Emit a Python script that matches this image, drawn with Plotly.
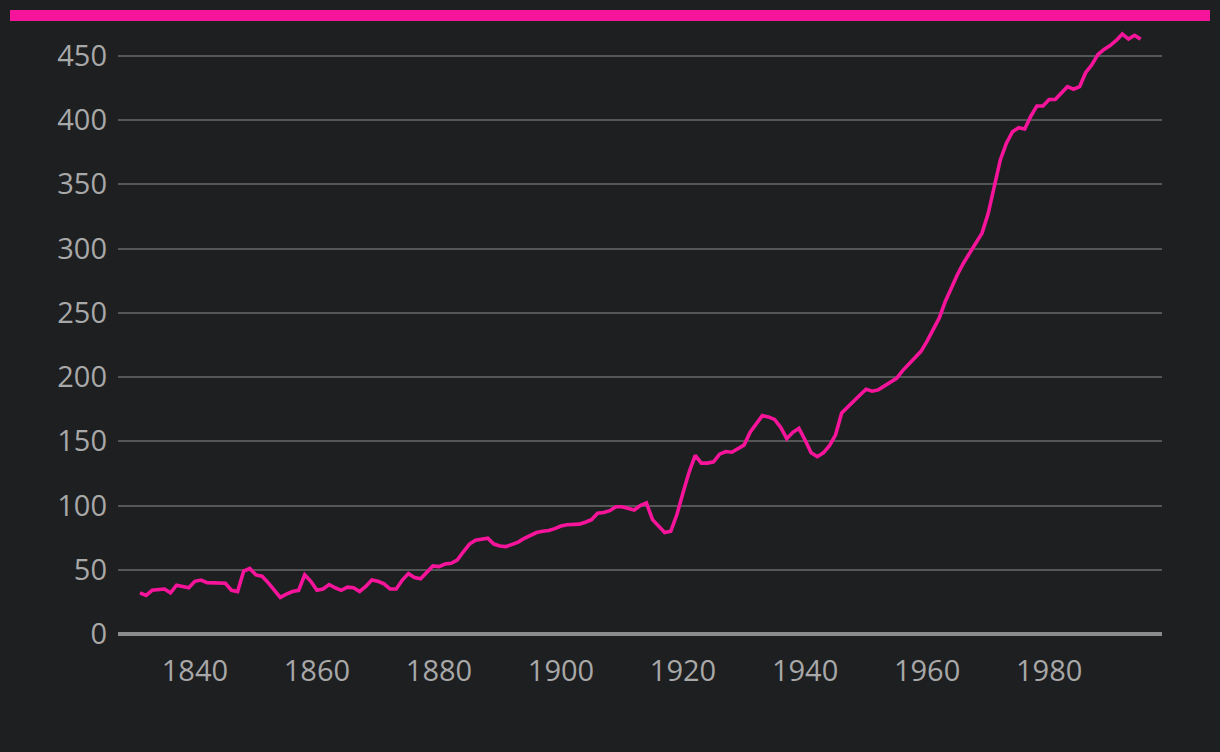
import plotly.graph_objects as go

years = list(range(1831, 1996))
values = [
    32, 30, 34, 34.5, 35, 32, 38, 37, 36, 41,            # 1831-1840
    42, 40, 40, 40, 39.5, 34, 33, 49, 51, 46,            # 1841-1850
    45, 40, 34.5, 28.5, 31, 33, 34, 46, 41, 34,          # 1851-1860
    35, 38.5, 36, 34, 36.5, 36, 33, 37, 42, 41,          # 1861-1870
    39, 35, 35, 42, 47, 44, 43, 48.5, 53, 52.5,          # 1871-1880
    54.5, 55, 57.5, 64, 70, 73, 73.5, 74.5, 70, 68.5,    # 1881-1890
    68, 69.5, 71.5, 74.5, 77, 79, 80, 80.5, 82, 84,      # 1891-1900
    85, 85.5, 85.5, 87, 89, 94, 94.5, 96, 99, 99,        # 1901-1910
    97.5, 96.5, 100, 102, 89, 84, 79, 80, 93, 110,       # 1911-1920
    126, 139, 133, 133, 134, 140, 142, 141.5, 144, 147,  # 1921-1930
    157, 163, 170, 169, 167, 161, 152, 157, 160, 151,    # 1931-1940
    141, 138, 141, 146.5, 155, 172, 177, 181, 186, 190.5,  # 1941-1950
    189, 190, 193, 196, 199, 205, 210, 215, 220, 228,    # 1951-1960
    237, 246, 259, 270, 280, 289, 297, 304, 312, 327,    # 1961-1970
    348, 369, 382, 391, 394, 393, 403, 411, 411, 416,    # 1971-1980
    416, 421, 426, 424, 426, 437, 443, 451, 455, 458,    # 1981-1990
    462, 467, 463, 466, 463,                             # 1991-1995
]

x_ticks = [1840, 1860, 1880, 1900, 1920, 1940, 1960, 1980]
y_ticks = [0, 50, 100, 150, 200, 250, 300, 350, 400, 450]

BG = "#1e1f21"
PINK = "#f5149a"
TXT = "#a8a8a8"
FONT = "Open Sans"
FS = 29

W, H = 1220, 752
ML, MR, MT, MB = 118, 58, 25, 118

fig = go.Figure()
fig.add_trace(go.Scatter(
    x=years, y=values, mode="lines",
    line=dict(color=PINK, width=3.6),
    hoverinfo="x+y", showlegend=False,
))

pw = W - ML - MR
ph = H - MT - MB
fig.add_shape(
    type="rect", xref="paper", yref="paper",
    x0=(10 - ML) / pw, x1=(1210 - ML) / pw,
    y0=(H - MB - 21) / ph, y1=(H - MB - 10) / ph,
    fillcolor=PINK, line=dict(width=0), layer="above",
)

fig.update_layout(
    width=W, height=H,
    margin=dict(l=ML, r=MR, t=MT, b=MB, pad=0),
    paper_bgcolor=BG, plot_bgcolor=BG,
    font=dict(family=FONT, size=FS, color=TXT),
    xaxis=dict(
        range=[1827.4, 1998.5],
        tickmode="array", tickvals=x_ticks, ticktext=[str(v) for v in x_ticks],
        showgrid=False, zeroline=False, showline=False,
        ticks="", ticklabelstandoff=17,
        tickfont=dict(family=FONT, size=FS, color=TXT),
    ),
    yaxis=dict(
        range=[0, 474],
        tickmode="array", tickvals=y_ticks, ticktext=[str(v) for v in y_ticks],
        showgrid=True, gridcolor="#555657", gridwidth=1.6,
        zeroline=True, zerolinecolor="#8c8c8c", zerolinewidth=4,
        showline=False, ticks="", ticklabelstandoff=10,
        tickfont=dict(family=FONT, size=FS, color=TXT),
    ),
)

fig.write_html(
    "out.html",
    config={"displayModeBar": False},
    post_script="document.body.style.margin='0';document.body.style.background='#1e1f21';",
)
